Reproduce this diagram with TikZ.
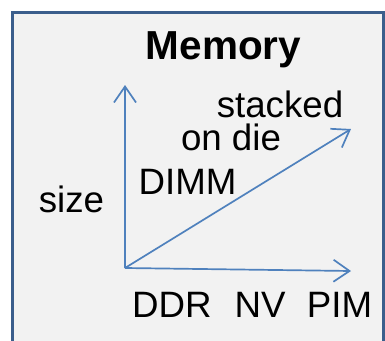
\documentclass[tikz,border=0pt]{standalone}
\usepackage{fontspec}
\setmainfont{Liberation Sans}
\usetikzlibrary{arrows.meta}
\definecolor{axisblue}{HTML}{4F81BD}
\definecolor{frameblue}{HTML}{3B5E8C}
\definecolor{panelgray}{HTML}{F2F2F2}
\tikzset{axis/.style={draw=axisblue, line width=1.7pt, -{Straight Barb[length=16pt, width=22pt, line width=1.7pt]}}, lbl/.style={inner sep=0pt, anchor=base, font=\fontsize{36.7}{40}\selectfont}}

\begin{document}
\begin{tikzpicture}[x=1pt, y=-1pt]
      \useasboundingbox (0,0) rectangle (385,340);
      \begin{scope}
        \clip (0,0) rectangle (385,340);
        \draw [frameblue, fill=panelgray, line width=3pt] (12,12.5) rectangle (383,352);
      \end{scope}

      \node [lbl, font=\fontsize{40.5}{44}\selectfont\bfseries] (title) at (223.5,59) {Memory};
      \node [lbl] (size) at (71.5,212) {size};
      \node [lbl] (dimm) at (187.5,194) {DIMM};
      \node [lbl] (ondie) at (231,150) {on die};
      \node [lbl] (stacked) at (280,117) {stacked};
      \node [lbl] (ddr) at (172,317) {DDR};
      \node [lbl] (nv) at (260,317) {NV};
      \node [lbl] (pim) at (339.5,317) {PIM};

      \coordinate (origin) at (125,268);
      \coordinate (top) at (125,85);
      \coordinate (right) at (351,271);
      \coordinate (far) at (351,129);
      \draw [axis] (origin) -- (top);
      \draw [axis] (origin) -- (right);
      \draw [axis] (origin) -- (far);
    \end{tikzpicture}
\end{document}
